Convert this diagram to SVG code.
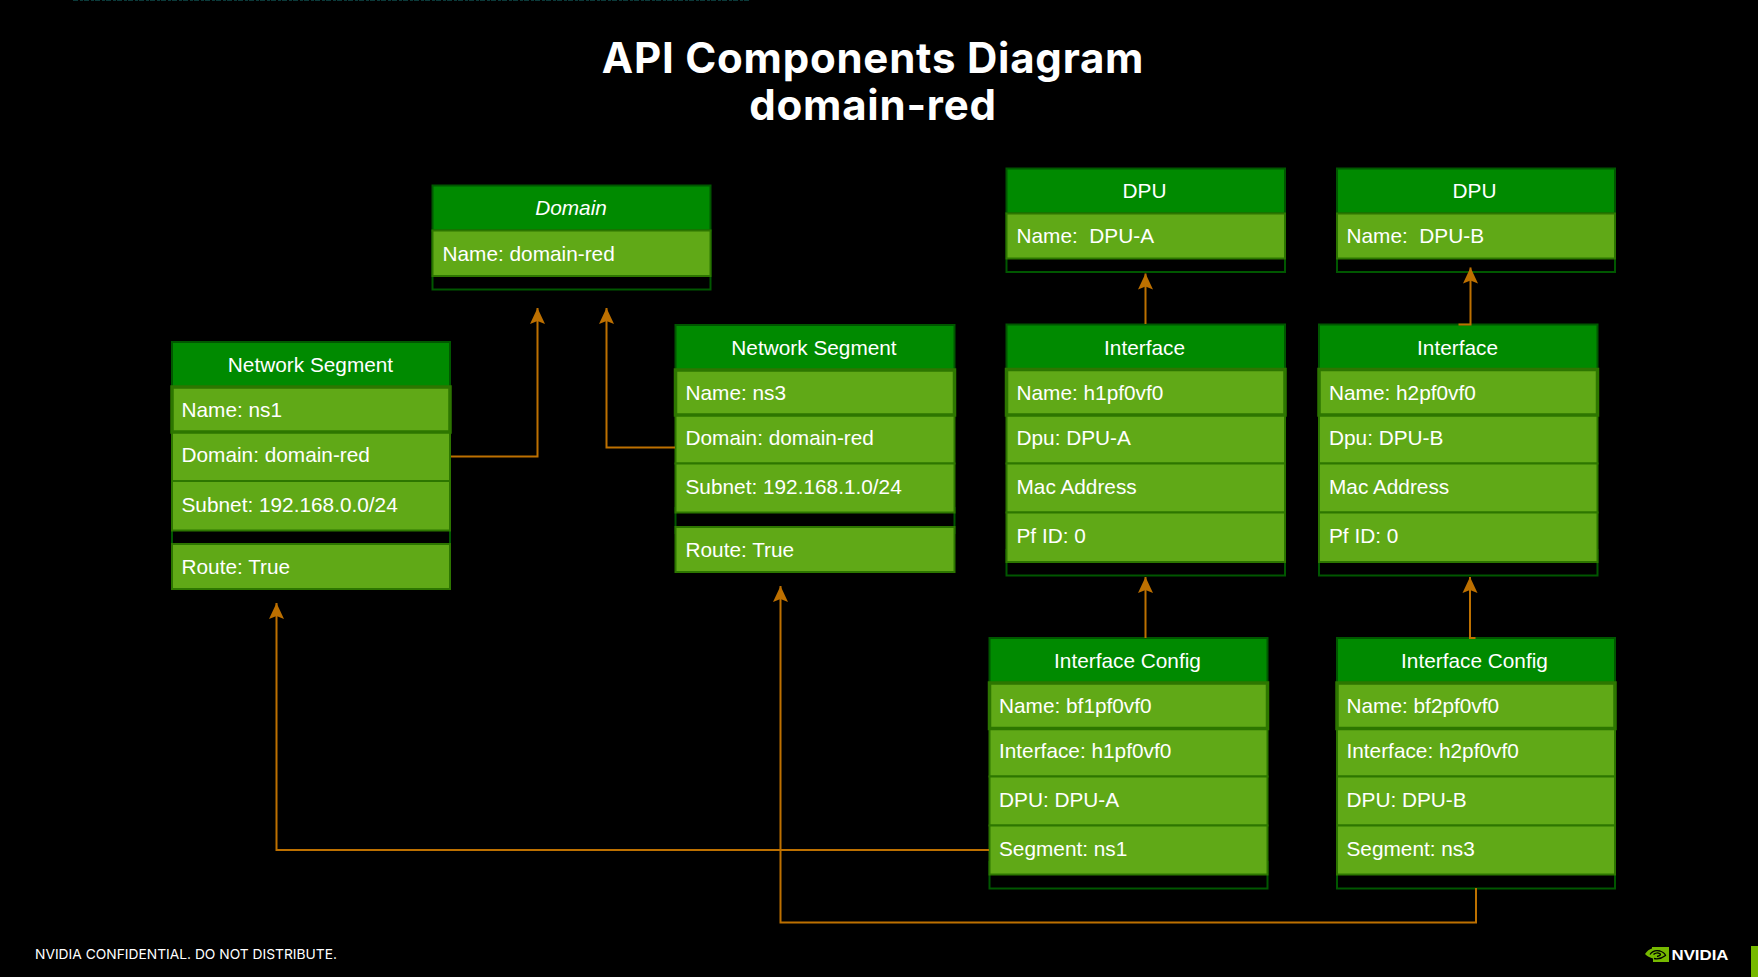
<svg xmlns="http://www.w3.org/2000/svg" width="1761" height="977" viewBox="0 0 1761 977">
<style>
text{font-family:"Liberation Sans",Arial,sans-serif;font-size:20.800px;fill:#fff;white-space:pre}
.c{text-anchor:middle}
.i{font-style:italic}
.t{font-family:Inter,"Open Sans",sans-serif;font-weight:700;font-size:42px;text-anchor:middle;letter-spacing:.77px}
.f{font-family:Inter,"Open Sans",sans-serif;font-size:13.700px;font-weight:400}
.h{fill:#008a00;stroke:#005700;stroke-width:2}
.r{fill:#60a917;stroke:#2d7600;stroke-width:2}
.n{fill:#60a917;stroke:#2d7600;stroke-width:3.500}
.b{fill:#000;stroke:#005700;stroke-width:2}
.w{fill:none;stroke:#bd7000;stroke-width:2}
</style>
<defs>
<marker id="a" markerUnits="userSpaceOnUse" markerWidth="18" markerHeight="18" refX="16" refY="8" orient="auto" viewBox="0 0 18 16">
<path d="M16,8 L0,0.500 L3,8 L0,15.500 Z" fill="#bd7000"/>
</marker>
</defs>
<rect width="1761" height="977" fill="#000"/>
<rect x="1758" width="3" height="977" fill="#fff"/>
<line x1="73" y1="0.500" x2="750" y2="0.500" stroke="#0b3a3a" stroke-width="1" stroke-dasharray="5 2 3 1"/>
<text class="t" x="873" y="73">API Components Diagram</text>
<text class="t" x="873" y="120">domain-red</text>

<g id="domain">
<rect class="b" x="432.500" y="230.500" width="278" height="59"/>
<rect class="h" x="432.500" y="185.500" width="278" height="45"/>
<rect class="r" x="432.500" y="230.500" width="278" height="45.500"/>
<text class="c i" x="571" y="215">Domain</text>
<text x="442.500" y="261">Name: domain-red</text>
</g>

<g id="segment-ns1">
<rect class="b" x="172" y="525" width="278" height="25"/>
<rect class="h" x="172" y="342" width="278" height="45"/>
<rect class="r" x="172" y="432" width="278" height="49"/>
<rect class="r" x="172" y="481" width="278" height="49.500"/>
<rect class="r" x="172" y="544" width="278" height="45"/>
<rect class="n" x="172" y="387" width="278" height="45"/>
<text class="c" x="310.500" y="372">Network Segment</text>
<text x="181.500" y="417">Name: ns1</text>
<text x="181.500" y="462">Domain: domain-red</text>
<text x="181.500" y="511.500">Subnet: 192.168.0.0/24</text>
<text x="181.500" y="574">Route: True</text>
</g>

<g id="segment-ns3">
<rect class="b" x="675.500" y="508" width="279" height="25"/>
<rect class="h" x="675.500" y="325" width="279" height="45"/>
<rect class="r" x="675.500" y="415" width="279" height="48.500"/>
<rect class="r" x="675.500" y="463.500" width="279" height="49"/>
<rect class="r" x="675.500" y="527" width="279" height="45"/>
<rect class="n" x="675.500" y="370" width="279" height="45"/>
<text class="c" x="814" y="354.500">Network Segment</text>
<text x="685.500" y="399.500">Name: ns3</text>
<text x="685.500" y="444.500">Domain: domain-red</text>
<text x="685.500" y="494">Subnet: 192.168.1.0/24</text>
<text x="685.500" y="557">Route: True</text>
</g>

<g id="dpu-a">
<rect class="b" x="1006.500" y="213" width="278.500" height="59"/>
<rect class="h" x="1006.500" y="168.500" width="278.500" height="45"/>
<rect class="r" x="1006.500" y="213.500" width="278.500" height="45"/>
<text class="c" x="1144.500" y="198">DPU</text>
<text x="1016.500" y="243">Name:  DPU-A</text>
</g>

<g id="dpu-b">
<rect class="b" x="1337" y="213" width="278" height="59"/>
<rect class="h" x="1337" y="168.500" width="278" height="45"/>
<rect class="r" x="1337" y="213.500" width="278" height="45"/>
<text class="c" x="1474.500" y="198">DPU</text>
<text x="1346.500" y="243">Name:  DPU-B</text>
</g>

<g id="interface-a">
<rect class="b" x="1006.500" y="550" width="278.500" height="25.500"/>
<rect class="h" x="1006.500" y="324.500" width="278.500" height="45"/>
<rect class="r" x="1006.500" y="415" width="278.500" height="48.500"/>
<rect class="r" x="1006.500" y="463.500" width="278.500" height="49"/>
<rect class="r" x="1006.500" y="512.500" width="278.500" height="49.500"/>
<rect class="n" x="1006.500" y="369.500" width="278.500" height="45.500"/>
<text class="c" x="1144.500" y="354.500">Interface</text>
<text x="1016.500" y="399.500">Name: h1pf0vf0</text>
<text x="1016.500" y="444.500">Dpu: DPU-A</text>
<text x="1016.500" y="494">Mac Address</text>
<text x="1016.500" y="543">Pf ID: 0</text>
</g>

<g id="interface-b">
<rect class="b" x="1319" y="550" width="278.500" height="25.500"/>
<rect class="h" x="1319" y="324.500" width="278.500" height="45"/>
<rect class="r" x="1319" y="415" width="278.500" height="48.500"/>
<rect class="r" x="1319" y="463.500" width="278.500" height="49"/>
<rect class="r" x="1319" y="512.500" width="278.500" height="49.500"/>
<rect class="n" x="1319" y="369.500" width="278.500" height="45.500"/>
<text class="c" x="1457.500" y="354.500">Interface</text>
<text x="1329" y="399.500">Name: h2pf0vf0</text>
<text x="1329" y="444.500">Dpu: DPU-B</text>
<text x="1329" y="494">Mac Address</text>
<text x="1329" y="543">Pf ID: 0</text>
</g>

<g id="config-a">
<rect class="b" x="989.500" y="862" width="278" height="26.500"/>
<rect class="h" x="989.500" y="638" width="278" height="45"/>
<rect class="r" x="989.500" y="728.500" width="278" height="48"/>
<rect class="r" x="989.500" y="776.500" width="278" height="49"/>
<rect class="r" x="989.500" y="825.500" width="278" height="49"/>
<rect class="n" x="989.500" y="683" width="278" height="45.500"/>
<text class="c" x="1127.500" y="668">Interface Config</text>
<text x="999" y="713">Name: bf1pf0vf0</text>
<text x="999" y="758">Interface: h1pf0vf0</text>
<text x="999" y="807">DPU: DPU-A</text>
<text x="999" y="855.500">Segment: ns1</text>
</g>

<g id="config-b">
<rect class="b" x="1337" y="862" width="278" height="26.500"/>
<rect class="h" x="1337" y="638" width="278" height="45"/>
<rect class="r" x="1337" y="728.500" width="278" height="48"/>
<rect class="r" x="1337" y="776.500" width="278" height="49"/>
<rect class="r" x="1337" y="825.500" width="278" height="49"/>
<rect class="n" x="1337" y="683" width="278" height="45.500"/>
<text class="c" x="1474.500" y="668">Interface Config</text>
<text x="1346.500" y="713">Name: bf2pf0vf0</text>
<text x="1346.500" y="758">Interface: h2pf0vf0</text>
<text x="1346.500" y="807">DPU: DPU-B</text>
<text x="1346.500" y="855.500">Segment: ns3</text>
</g>

<g id="connectors">
<path class="w" marker-end="url(#a)" d="M451,456.500H537.500V308"/>
<path class="w" marker-end="url(#a)" d="M675,447.500H606.500V308"/>
<path class="w" marker-end="url(#a)" d="M1145.500,324V273.500"/>
<path class="w" marker-end="url(#a)" d="M1458.500,324.500H1470.500V267.500"/>
<path class="w" marker-end="url(#a)" d="M1145.500,638V577"/>
<path class="w" marker-end="url(#a)" d="M1475.500,638H1470V577"/>
<path class="w" marker-end="url(#a)" d="M989,850H276.500V603"/>
<path class="w" marker-end="url(#a)" d="M1476,888V922.500H780.500V586"/>
</g>

<text class="f" x="35" y="959" textLength="302" lengthAdjust="spacingAndGlyphs">NVIDIA CONFIDENTIAL. DO NOT DISTRIBUTE.</text>

<g id="nvidia-logo">
<path d="M1652,947H1669V962H1653V958.500C1649,957.500 1646.500,955.500 1645,954C1647,951 1649.500,949 1652,948.500Z" fill="#76b900"/>
<path d="M1650,954.500C1652,951.500 1656,950 1660,951C1663,952 1665,954 1665.500,955.500C1663,957.500 1658,959.500 1654,958.500" fill="none" stroke="#000" stroke-width="1.300"/>
<path d="M1653.500,954.500C1655,952.800 1658,952.500 1660,953.800C1661,954.800 1660,956 1657,956.500" fill="none" stroke="#000" stroke-width="1.300"/>
<text x="1671.500" y="960" style="font-family:'Liberation Sans',sans-serif;font-size:14px;font-weight:700" textLength="57" lengthAdjust="spacingAndGlyphs">NVIDIA</text>
</g>
<rect x="1751" y="946" width="7" height="31" fill="#76b900"/>
</svg>
